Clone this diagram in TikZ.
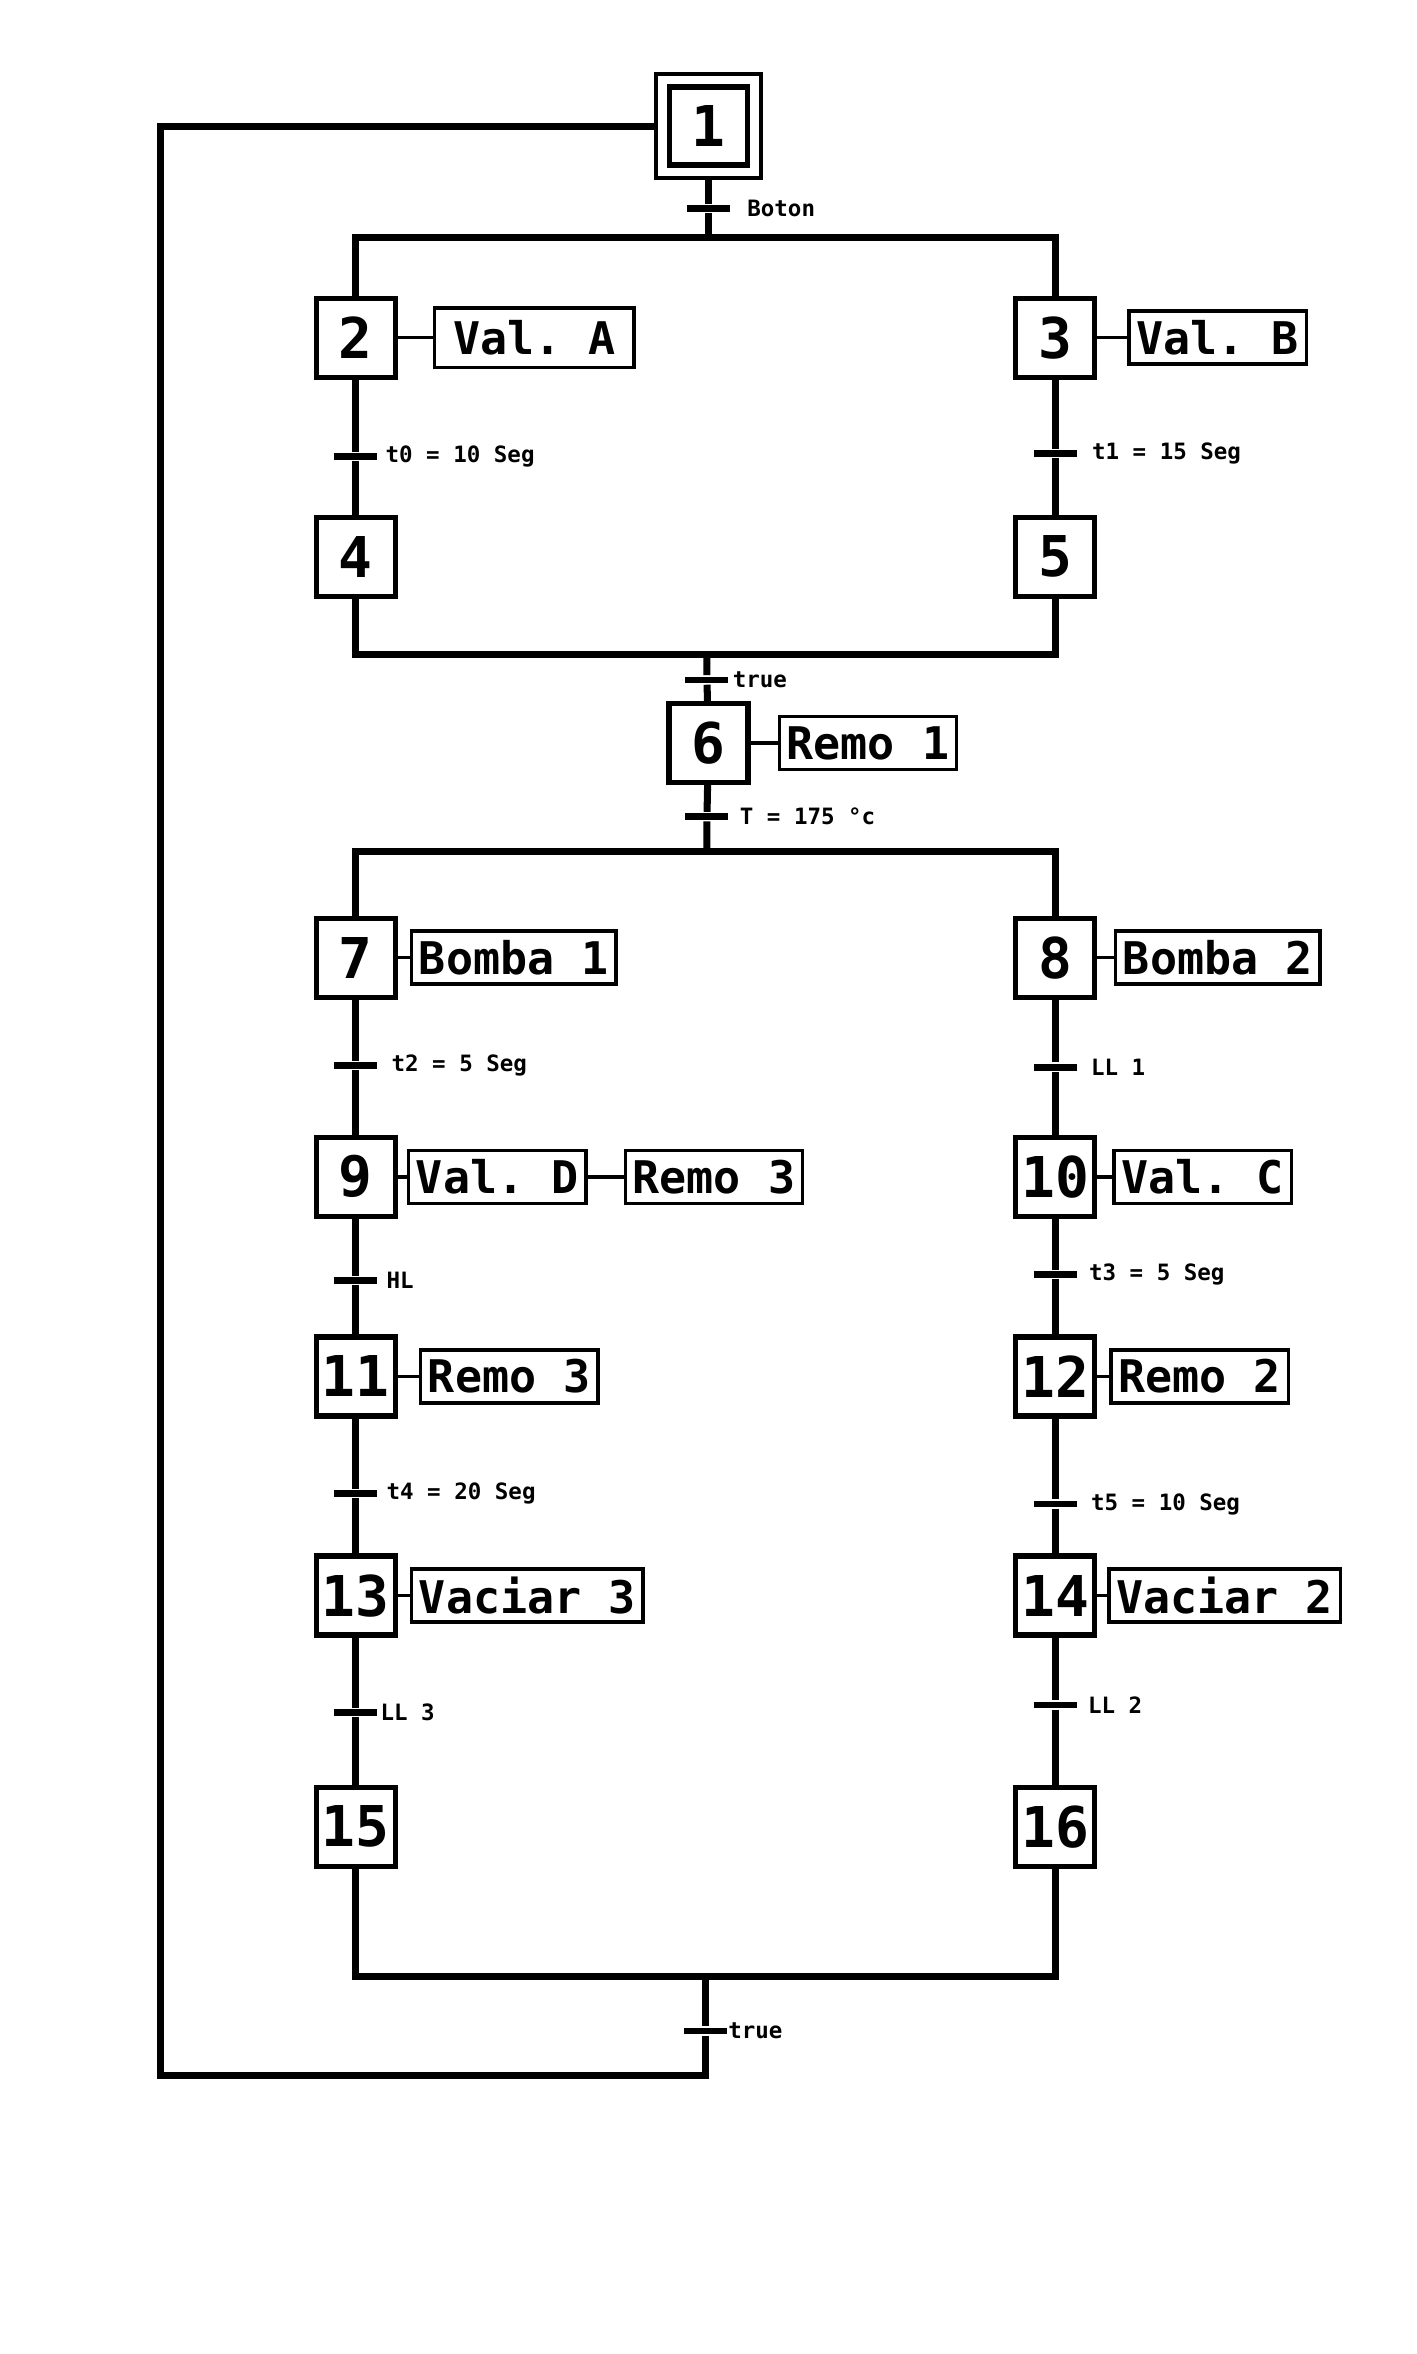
\documentclass[tikz,border=0pt]{standalone}
\usepackage{fontspec}
\setmonofont{DejaVu Sans Mono}
\usepackage{tikz}
\usetikzlibrary{positioning}

\begin{document}
\begin{tikzpicture}[x=0.01501cm, y=-0.01501cm, thick,
    stepbox/.style = {draw, line width=1.5pt, minimum size=0.79cm, inner sep=0pt, font=\ttfamily\bfseries\fontsize{16}{16}\selectfont},
    initbox/.style = {draw, line width=1.2pt, minimum size=1.045cm},
    action/.style = {draw, line width=1pt, minimum height=0.53cm, inner xsep=2.1pt, inner ysep=0pt, font=\ttfamily\bfseries\fontsize{12.8}{13}\selectfont},
    trans/.style = {fill, minimum width=0.43cm, minimum height=1.9pt, inner sep=0pt},
    lab/.style = {inner sep=0pt, outer sep=0pt, font=\ttfamily\bfseries\fontsize{6.4}{7}\selectfont},
    flow/.style = {line width=2pt},
    link/.style = {line width=1pt}]
            \useasboundingbox (0,0) rectangle (944,1568.3);

            % steps
            \node[initbox] (s1o) at (472,84) {};
            \node[stepbox, minimum size=0.78cm] (s1) at (s1o) {1};
            \node[stepbox] (s2) at (237,225) {2};
            \node[stepbox] (s3) at (703,225) {3};
            \node[stepbox] (s4) at (237,371) {4};
            \node[stepbox] (s5) at (703,371) {5};
            \node[stepbox] (s6) at (472,495) {6};
            \node[stepbox] (s7) at (237,638) {7};
            \node[stepbox] (s8) at (703,638) {8};
            \node[stepbox] (s9) at (237,784) {9};
            \node[stepbox] (s10) at (703,784) {10};
            \node[stepbox] (s11) at (237,917) {11};
            \node[stepbox] (s12) at (703,917) {12};
            \node[stepbox] (s13) at (237,1063) {13};
            \node[stepbox] (s14) at (703,1063) {14};
            \node[stepbox] (s15) at (237,1217) {15};
            \node[stepbox] (s16) at (703,1217) {16};

            % actions
            \node[action, minimum width=1.995cm, minimum height=0.6cm, right=0.35cm of s2] (a2) {Val. A};
            \node[action, right=0.30cm of s3] (a3) {Val. B};
            \node[action, right=0.27cm of s6] (a6) {Remo 1};
            \node[action, right=0.12cm of s7] (a7) {Bomba 1};
            \node[action, right=0.165cm of s8] (a8) {Bomba 2};
            \node[action, right=0.09cm of s9] (a9) {Val. D};
            \node[action, right=0.36cm of a9] (a9b) {Remo 3};
            \node[action, right=0.15cm of s10] (a10) {Val. C};
            \node[action, right=0.21cm of s11] (a11) {Remo 3};
            \node[action, right=0.12cm of s12] (a12) {Remo 2};
            \node[action, right=0.12cm of s13] (a13) {Vaciar 3};
            \node[action, right=0.10cm of s14] (a14) {Vaciar 2};

            % transitions
            \node[trans] (tb) at (472,139) {};
            \node[trans] (t0) at (237,304) {};
            \node[trans] (t1) at (703,302) {};
            \node[trans] (tr1) at (471,453) {};
            \node[trans] (tT) at (471,544) {};
            \node[trans] (t2) at (237,710) {};
            \node[trans] (tL1) at (703,711) {};
            \node[trans] (tH) at (237,853) {};
            \node[trans] (t3) at (703,849) {};
            \node[trans] (t4) at (237,995) {};
            \node[trans] (t5) at (703,1002) {};
            \node[trans] (tL3) at (237,1141) {};
            \node[trans] (tL2) at (703,1136) {};
            \node[trans] (tr2) at (470,1353) {};

            % receptivities
            \node[lab, right=0.16cm of tb] (lb-tb) {Boton};
            \node[lab, right=0.07cm of t0] (lb-t0) {t0 = 10 Seg};
            \node[lab, right=0.14cm of t1] (lb-t1) {t1 = 15 Seg};
            \node[lab, right=0.03cm of tr1] (lb-tr1) {true};
            \node[lab, right=0.10cm of tT] (lb-tT) {T = 175 °c};
            \node[lab, right=0.13cm of t2] (lb-t2) {t2 = 5 Seg};
            \node[lab, right=0.13cm of tL1] (lb-tL1) {LL 1};
            \node[lab, right=0.08cm of tH] (lb-tH) {HL};
            \node[lab, right=0.11cm of t3] (lb-t3) {t3 = 5 Seg};
            \node[lab, right=0.08cm of t4] (lb-t4) {t4 = 20 Seg};
            \node[lab, right=0.13cm of t5] (lb-t5) {t5 = 10 Seg};
            \node[lab, right=0.02cm of tL3] (lb-tL3) {LL 3};
            \node[lab, right=0.10cm of tL2] (lb-tL2) {LL 2};
            \node[lab, right=0cm of tr2] (lb-tr2) {true};

            % junctions
            \coordinate (d1) at (472,158);
            \coordinate (c1) at (471,436);
            \coordinate (d2) at (471,567);
            \coordinate (c2) at (470,1317);
            \coordinate (lb) at (107,1383);

            % flow
            \draw[flow] (s1o) -- (tb) -- (d1);
            \draw[flow] (s2.north) |- (d1) -| (s3.north);
            \draw[flow] (s2) -- (t0) -- (s4);
            \draw[flow] (s3) -- (t1) -- (s5);
            \draw[flow] (s4.south) |- (c1) -| (s5.south);
            \draw[flow] (c1) -- (tr1) -- (s6);
            \draw[flow] (s6) -- (tT) -- (d2);
            \draw[flow] (s7.north) |- (d2) -| (s8.north);
            \draw[flow] (s7) -- (t2) -- (s9) -- (tH) -- (s11) -- (t4) -- (s13) -- (tL3) -- (s15);
            \draw[flow] (s8) -- (tL1) -- (s10) -- (t3) -- (s12) -- (t5) -- (s14) -- (tL2) -- (s16);
            \draw[flow] (s15.south) |- (c2) -| (s16.south);
            \draw[flow] (c2) -- (tr2) |- (lb) |- (s1o.west);

            % action links
            \draw[link] (s2) -- (a2);
            \draw[link] (s3) -- (a3);
            \draw[link] (s6) -- (a6);
            \draw[link] (s7) -- (a7);
            \draw[link] (s8) -- (a8);
            \draw[link] (s9) -- (a9);
            \draw[link] (a9) -- (a9b);
            \draw[link] (s10) -- (a10);
            \draw[link] (s11) -- (a11);
            \draw[link] (s12) -- (a12);
            \draw[link] (s13) -- (a13);
            \draw[link] (s14) -- (a14);
        \end{tikzpicture}
\end{document}
